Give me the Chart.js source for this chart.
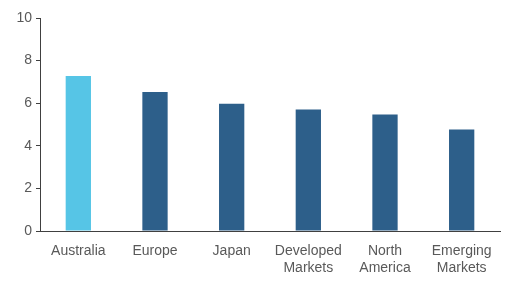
<!DOCTYPE html>
<html>
<head>
<meta charset="utf-8">
<script src="https://cdn.jsdelivr.net/npm/chart.js@4.4.1/dist/chart.umd.min.js"></script>
<style>
    html, body { margin: 0; padding: 0; background: #fff; }
    #wrap { width: 517px; height: 284px; }
</style>
</head>
<body>
<div id="wrap"><canvas id="chart"></canvas></div>
<script>
// data
var categories = ['Australia', 'Europe', 'Japan', ['Developed', 'Markets'], ['North', 'America'], ['Emerging', 'Markets']];
var values = [7.28, 6.53, 5.98, 5.71, 5.47, 4.77];
var barColors = ['#56c5e6', '#2d5f8a', '#2d5f8a', '#2d5f8a', '#2d5f8a', '#2d5f8a'];
var yTicks = [0, 2, 4, 6, 8, 10];

var textColor = '#595959';
var axisColor = '#404040';

new Chart(document.getElementById('chart').getContext('2d'), {
    type: 'bar',
    data: {
        labels: categories,
        datasets: [{
            data: values,
            backgroundColor: barColors,
            borderWidth: 0,
            barPercentage: 0.33,
            categoryPercentage: 1
        }]
    },
    options: {
        responsive: true,
        maintainAspectRatio: false,
        animation: false,
        layout: {
            padding: {left: 0, right: 17, top: 18, bottom: 0}
        },
        plugins: {
            legend: {display: false},
            tooltip: {enabled: false}
        },
        scales: {
            x: {
                grid: {display: false},
                border: {display: true, color: axisColor, width: 1},
                ticks: {
                    color: textColor,
                    font: {family: 'Liberation Sans, Arial', size: 14},
                    padding: 4,
                    maxRotation: 0,
                    autoSkip: false
                },
                afterFit: function (scale) {
                    scale.height = 53;
                }
            },
            y: {
                min: 0,
                max: 10,
                afterBuildTicks: function (scale) {
                    scale.ticks = yTicks.map(function (v) { return {value: v}; });
                },
                grid: {
                    drawOnChartArea: false,
                    drawTicks: true,
                    tickLength: 4,
                    color: axisColor
                },
                border: {display: true, color: axisColor, width: 1},
                ticks: {
                    color: textColor,
                    font: {family: 'Liberation Sans, Arial', size: 14},
                    padding: 4
                },
                afterFit: function (scale) {
                    scale.width = 40;
                }
            }
        }
    }
});
</script>
</body>
</html>
